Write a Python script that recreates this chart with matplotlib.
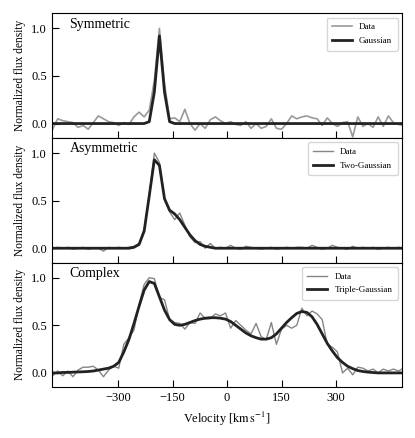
import matplotlib
matplotlib.use('Agg')
import matplotlib.pyplot as plt
import numpy as np

plt.rcParams['font.family'] = 'serif'
plt.rcParams['font.serif'] = ['Liberation Serif', 'DejaVu Serif']
plt.rcParams['mathtext.fontset'] = 'stix'

# channel velocities (km/s)
velocity = [-480, -466, -452, -438, -424, -410, -396, -382, -368, -354,
            -340, -326, -312, -298, -284, -270, -256, -242, -228, -214,
            -200, -186, -172, -158, -144, -130, -116, -102, -88, -74,
            -60, -46, -32, -18, -4, 10, 24, 38, 52, 66,
            80, 94, 108, 122, 136, 150, 164, 178, 192, 206,
            220, 234, 248, 262, 276, 290, 304, 318, 332, 346,
            360, 374, 388, 402, 416, 430, 444, 458, 472, 486]

sym_data = [-0.06, 0.05, 0.03, 0.02, 0.01, -0.04, -0.02, -0.06, 0.01, 0.08,
            0.05, 0.02, 0.01, -0.02, 0.01, -0.01, 0.07, 0.12, 0.07, 0.14,
            0.45, 1.0, 0.42, 0.05, 0.06, 0.02, 0.15, 0.0, -0.07, 0.0,
            -0.05, 0.04, 0.07, 0.03, 0.0, 0.02, -0.01, -0.02, 0.02, -0.05,
            0.0, -0.05, -0.03, 0.05, -0.05, -0.06, 0.0, 0.08, 0.05, 0.07,
            0.08, 0.06, 0.05, -0.02, 0.06, 0.0, -0.03, 0.01, 0.02, -0.14,
            0.07, -0.03, 0.0, -0.04, 0.07, -0.03, 0.08, 0.01, -0.01, -0.02]
sym_fit = [0.0] * 19 + [0.02, 0.33, 0.92, 0.33, 0.02] + [0.0] * 46

asym_data = [0.0, 0.01, 0.0, 0.01, -0.01, 0.0, 0.01, -0.01, 0.0, 0.0,
             -0.03, 0.01, 0.0, 0.01, 0.0, 0.01, 0.02, 0.05, 0.2, 0.55,
             1.0, 0.9, 0.52, 0.38, 0.3, 0.37, 0.24, 0.12, 0.06, 0.07,
             0.0, 0.05, 0.0, 0.01, 0.0, 0.03, 0.0, -0.01, 0.02, 0.01,
             0.0, -0.01, 0.0, 0.01, -0.01, 0.0, 0.01, 0.0, 0.01, 0.01,
             0.0, 0.03, 0.01, -0.01, 0.0, 0.03, 0.01, 0.0, -0.01, 0.02,
             0.0, 0.01, 0.0, 0.01, -0.01, 0.0, 0.01, 0.0, 0.01, 0.0]
asym_fit = ([0.0] * 16
            + [0.01, 0.04, 0.18, 0.55, 0.93, 0.87, 0.52, 0.4, 0.36, 0.3,
               0.22, 0.14, 0.08, 0.04, 0.02, 0.01]
            + [0.0] * 38)

comp_data = [-0.03, 0.02, -0.03, 0.02, -0.04, 0.03, 0.06, 0.06, 0.07, 0.03,
             -0.04, 0.03, 0.07, 0.05, 0.3, 0.37, 0.45, 0.72, 0.93, 1.0,
             0.99, 0.79, 0.77, 0.56, 0.53, 0.52, 0.46, 0.53, 0.52, 0.63,
             0.57, 0.57, 0.62, 0.6, 0.63, 0.47, 0.55, 0.5, 0.45, 0.41,
             0.52, 0.38, 0.35, 0.53, 0.3, 0.46, 0.5, 0.47, 0.5, 0.68,
             0.6, 0.65, 0.62, 0.56, 0.3, 0.27, 0.22, 0.0, 0.05, -0.02,
             0.06, 0.05, 0.02, 0.04, 0.0, 0.04, 0.02, 0.04, 0.02, 0.05]
comp_fit = [0.0, 0.0, 0.005, 0.005, 0.008, 0.01, 0.012, 0.015, 0.02, 0.03,
            0.04, 0.05, 0.07, 0.11, 0.22, 0.35, 0.52, 0.7, 0.87, 0.96,
            0.94, 0.8, 0.66, 0.56, 0.51, 0.5, 0.51, 0.53, 0.55, 0.565,
            0.575, 0.58, 0.58, 0.575, 0.565, 0.54, 0.5, 0.46, 0.42, 0.39,
            0.37, 0.355, 0.355, 0.37, 0.41, 0.47, 0.53, 0.58, 0.625, 0.645,
            0.635, 0.59, 0.51, 0.41, 0.31, 0.23, 0.16, 0.11, 0.07, 0.045,
            0.025, 0.015, 0.008, 0.004, 0.0, 0.0, 0.0, 0.0, 0.0, 0.0]

panels = [
    ('Symmetric', sym_data, sym_fit, 'Gaussian'),
    ('Asymmetric', asym_data, asym_fit, 'Two-Gaussian'),
    ('Complex', comp_data, comp_fit, 'Triple-Gaussian'),
]

fig, axes = plt.subplots(3, 1, figsize=(4.15, 4.38), dpi=100, sharex=True)
fig.subplots_adjust(left=0.125, right=0.969, top=0.970, bottom=0.116, hspace=0)

for i, (ax, (name, data, fit, fit_label)) in enumerate(zip(axes, panels)):
    if i == 0:
        ax.plot(velocity, data, color='#999999', lw=1.2, label='Data')
    else:
        ax.plot(velocity, data, color='#858585', lw=1.0, label='Data')
    ax.plot(velocity, fit, color='#222222', lw=2.0, label=fit_label)

    ax.set_xlim(-482, 482)
    ax.set_ylim(-0.15, 1.16)
    ax.set_yticks([0.0, 0.5, 1.0])
    ax.set_xticks([-300, -150, 0, 150, 300])
    ax.tick_params(direction='in', length=5, width=0.8, labelsize=9,
                   top=False, right=False)
    for sp in ax.spines.values():
        sp.set_linewidth(0.8)
    ax.set_ylabel('Normalized flux density', fontsize=8.3)
    ax.text(0.05, 0.965, name, transform=ax.transAxes, fontsize=10,
            ha='left', va='top')
    leg = ax.legend(loc='upper right', fontsize=6.5, frameon=True,
                    handlelength=2.2, borderpad=0.6, labelspacing=0.6)
    leg.get_frame().set_edgecolor('#cccccc')
    leg.get_frame().set_linewidth(1.0)

axes[-1].set_xlabel(r'Velocity [$\mathrm{km\,s^{-1}}$]', fontsize=8.8)

plt.savefig('out.png', dpi=100)
plt.close(fig)
